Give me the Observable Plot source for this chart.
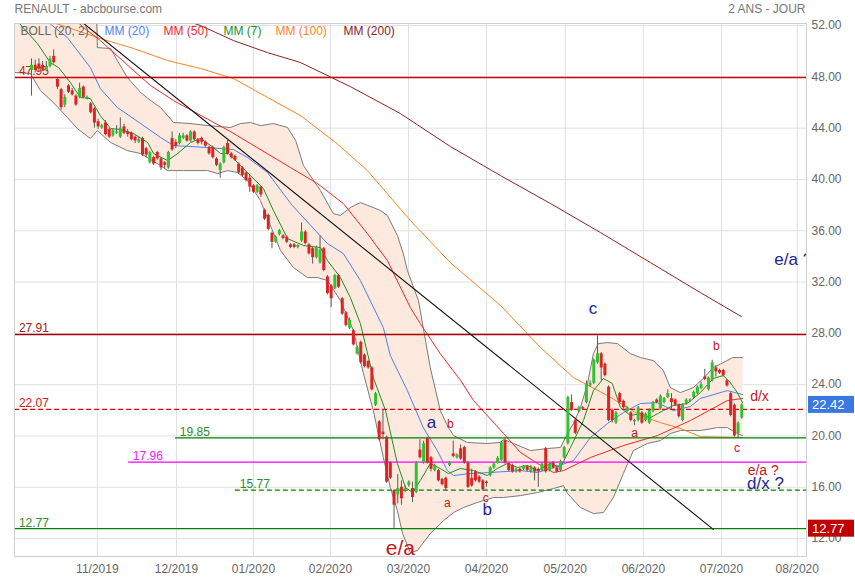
<!DOCTYPE html>
<html>
<head>
<meta charset="utf-8">
<script src="https://cdn.jsdelivr.net/npm/d3@7"></script>
<script src="https://cdn.jsdelivr.net/npm/@observablehq/plot@0.6"></script>
<style>
html,body{margin:0;padding:0;background:#fff;}
#chart svg{display:block;}
</style>
</head>
<body>
<div id="chart"></div>
<script>
// ---- daily candles (trading-day index 0..192) ----
const open = [
48.5,48.9,49.0,48.9,48.5,48.8,49.6,47.8,47.0,45.8,
47.3,46.9,46.5,46.4,47.2,46.3,45.9,45.5,44.5,44.0,
44.4,43.9,43.4,43.6,43.3,44.1,43.7,43.6,43.3,42.9,
43.2,42.4,41.3,41.7,42.1,41.6,41.3,40.9,43.2,42.9,
42.8,43.2,43.4,43.0,43.7,43.1,43.2,42.9,42.5,42.5,
41.6,40.7,41.3,42.8,42.0,41.8,41.2,40.9,40.5,40.1,
39.5,39.0,39.4,37.6,37.2,35.8,35.1,35.7,35.6,35.5,
34.9,34.9,34.7,35.2,35.9,34.9,34.6,33.9,33.5,34.6,
32.4,31.7,31.5,32.5,30.7,29.6,28.4,28.2,26.4,27.3,
26.3,25.8,25.3,22.4,21.1,20.3,19.9,17.9,15.75,15.4,
16.0,15.8,16.15,15.9,15.6,18.9,17.9,19.8,18.3,17.3,
17.3,16.6,16.7,17.7,18.6,18.3,19.0,19.1,17.9,16.7,
17.2,16.8,16.5,16.4,16.9,17.5,17.85,18.1,19.65,17.85,
17.7,17.2,17.4,17.4,17.6,17.2,17.5,17.4,17.3,19.0,
17.3,17.9,17.5,17.3,18.3,19.4,22.6,21.2,21.9,22.2,
22.6,23.9,24.1,25.7,26.4,25.6,23.8,22.0,21.0,23.3,
22.7,21.9,21.8,21.1,21.2,21.8,21.2,21.0,21.9,22.8,
22.1,22.6,23.0,22.9,22.8,22.4,21.2,22.5,22.7,23.0,
23.3,23.7,24.6,23.6,24.3,25.3,25.1,25.1,24.3,23.3,
22.4,20.2,21.4];
const close = [
48.9,48.5,48.6,48.6,48.8,49.4,49.1,47.2,45.6,46.4,
46.8,46.6,45.8,47.1,46.4,46.4,45.2,44.4,44.1,44.2,
43.5,43.3,43.8,43.7,44.0,43.6,43.5,43.1,43.0,43.1,
41.9,41.9,42.1,41.2,41.6,40.9,41.1,42.1,42.3,42.6,
43.4,43.4,43.0,43.7,43.1,42.8,42.9,42.6,42.0,41.7,
41.1,41.2,42.5,42.0,41.7,41.5,40.5,40.3,39.9,39.4,
39.0,39.5,38.8,36.9,36.1,35.1,35.5,36.0,35.4,35.1,
34.7,34.7,34.85,35.9,35.0,34.2,33.9,34.7,34.5,32.9,
31.1,30.7,32.5,31.6,29.5,28.6,29.0,27.1,26.9,25.7,
25.4,25.3,23.6,23.3,19.7,20.1,16.4,16.7,14.6,15.9,
15.1,15.9,16.4,15.2,17.9,18.3,19.4,17.9,17.4,17.7,
16.5,16.2,15.9,17.9,18.4,18.5,18.2,17.9,16.0,16.1,
16.5,16.4,15.8,16.3,17.5,17.8,18.25,19.5,17.9,17.3,
17.2,17.4,17.2,17.65,17.3,17.6,17.2,17.2,17.8,17.2,
17.8,17.5,17.2,18.0,19.1,23.0,22.0,20.2,22.2,22.1,
24.0,24.1,25.9,26.4,25.3,24.7,21.2,21.2,21.8,22.6,
22.2,22.2,21.2,21.2,22.2,21.0,21.7,22.0,22.6,22.6,
23.1,22.9,23.3,22.6,22.4,21.5,22.4,22.8,22.8,23.4,
23.8,24.0,24.4,24.5,25.7,25.0,24.9,24.7,23.9,21.6,
20.0,21.0,22.42];
const high = [
49.4,49.3,49.4,49.2,49.2,49.6,50.1,47.9,47.1,46.6,
47.4,47.1,46.6,47.5,47.3,46.5,46.0,45.6,44.7,44.3,
44.6,44.0,43.9,44.2,44.8,44.3,43.9,43.7,43.4,43.3,
43.3,42.5,42.2,41.8,42.2,41.7,41.4,42.2,43.7,43.1,
43.6,43.6,43.5,43.8,43.8,43.2,43.3,43.0,42.6,42.6,
41.7,41.3,42.6,43.2,42.1,41.9,41.3,41.0,40.6,40.3,
39.6,39.6,39.5,37.7,37.3,35.9,35.6,36.1,35.7,35.6,
35.0,35.0,34.9,36.6,36.0,35.0,34.7,34.8,35.6,34.7,
32.5,31.8,32.6,32.6,30.8,29.7,29.2,28.3,27.0,27.4,
26.4,25.9,25.4,23.4,21.2,22.0,20.0,18.0,15.8,17.0,
16.5,16.1,16.5,16.4,18.0,19.7,19.6,19.9,18.4,17.8,
17.4,16.7,16.8,18.0,19.6,18.6,19.3,19.2,18.0,17.4,
17.3,16.9,16.6,16.5,17.6,17.9,18.4,19.6,19.8,17.9,
17.8,17.5,17.5,17.7,17.7,17.7,17.6,17.5,17.9,19.1,
17.9,18.0,17.6,18.1,19.2,23.1,23.2,21.3,22.3,22.3,
24.3,24.3,26.0,27.8,26.5,25.7,23.9,22.1,21.9,23.4,
22.8,22.3,21.9,21.3,22.3,21.9,21.8,22.1,22.7,22.9,
23.2,23.0,23.6,23.3,22.9,22.5,22.5,22.9,22.9,23.5,
23.9,24.2,25.2,24.6,25.9,25.5,25.2,25.2,24.4,23.4,
22.5,21.1,22.5];
const low = [
46.5,48.3,48.4,48.4,48.4,48.7,49.0,47.0,45.4,45.6,
46.7,46.5,45.7,46.3,46.3,46.2,45.1,44.0,43.9,43.9,
43.4,43.2,43.3,43.5,43.2,43.5,43.3,43.0,42.8,42.8,
41.8,41.7,41.2,41.1,41.5,40.7,40.8,40.8,42.2,42.4,
42.7,43.1,42.9,42.9,43.0,42.7,42.7,42.5,41.9,41.6,
41.0,40.1,41.2,41.9,41.6,41.4,40.4,40.2,39.8,39.0,
38.9,38.9,38.6,36.8,36.0,34.6,35.0,35.6,35.3,35.0,
34.6,34.6,34.6,35.1,34.9,34.1,33.4,33.8,33.4,32.8,
31.0,30.0,31.4,31.5,29.4,28.5,28.3,27.0,26.3,25.6,
25.3,25.2,23.5,22.3,19.6,19.7,16.3,16.6,12.77,14.7,
14.6,15.6,16.0,14.8,15.5,18.2,17.8,17.8,17.2,17.2,
16.4,16.1,15.7,17.6,18.3,18.2,18.1,17.8,15.9,16.0,
16.4,16.3,15.7,16.0,16.8,17.4,17.8,18.0,17.8,17.2,
17.1,17.1,17.1,17.3,17.2,17.1,16.5,16.0,17.2,17.1,
17.2,17.4,17.1,17.2,18.2,19.3,21.9,20.1,21.8,22.0,
22.5,23.8,24.0,25.6,24.3,24.6,21.1,21.0,20.9,22.5,
22.1,21.8,21.1,20.8,21.1,20.9,21.1,20.9,21.8,22.5,
22.0,22.5,22.9,22.0,22.3,21.4,21.1,22.4,22.6,22.9,
23.2,23.6,24.3,23.5,24.2,24.6,24.8,24.6,23.8,21.5,
19.9,19.8,21.3];

// ---- indicator lines: [day index, price] ----
const mm7 = [[-4.6,52.6],[-3.5,52.23],[1.6,50.6],[5.1,49.1],[7.3,48.73],[10.5,47.56],[13.2,46.39],[15.9,46.31],[18.6,44.98],[21.4,43.97],[24.1,43.89],[27.6,43.58],[31.4,42.88],[33,42.02],[36.8,41.47],[39.5,42.02],[43,42.88],[45.7,43.19],[49.2,42.49],[51.1,42.02],[53.2,42.02],[56.5,41.08],[59.2,40.3],[62.7,39.29],[65.4,37.57],[69.2,35.39],[73.5,34.85],[78.1,34.69],[80,33.68],[83.5,32.35],[86.2,30.79],[88.9,28.76],[92.4,24.55],[95.7,21.98],[98.9,17.85],[101.1,15.98],[103,15.59],[105.1,16.52],[107.8,17.85],[110.5,17.46],[112.7,17.07],[115.9,17.46],[119.5,17.3],[123.2,16.91],[125.9,17.46],[128.6,17.85],[131.4,17.54],[134.1,17.69],[136.8,17.3],[140.3,17.85],[143,17.54],[145.7,19.1],[149.2,21.2],[151.9,23.54],[154.6,24.48],[157,24.09],[159.2,22.21],[161.9,21.59],[164.6,21.75],[167.3,21.43],[170.8,21.98],[173.5,22.37],[177.3,22.53],[180.8,23.38],[184.3,24.48],[187,24.71],[188.9,24.16],[190.8,23.38],[192.2,22.6]];
const mm20 = [[0,54],[4.6,52.23],[9.7,51.06],[15.9,48.73],[18.6,47.09],[23.2,45.61],[29.5,44.36],[34.9,43.27],[38.4,42.64],[47.6,42.49],[54.6,42.33],[58.4,41.71],[63.8,40.54],[70.4,38.0],[80,35.0],[84.3,34.22],[88.9,32.12],[95.1,28.45],[97,26.27],[101.6,23.54],[105.9,20.65],[109.7,18.86],[112.4,17.3],[114.1,16.91],[118.6,17.07],[124.1,17.15],[132.2,17.3],[136.8,17.15],[141.1,17.54],[146.5,18.08],[151.1,19.88],[155.7,20.97],[160,21.82],[164.6,22.53],[169.2,22.6],[173.5,21.98],[178.1,22.29],[180.8,22.92],[188.1,23.54],[192.2,23.23]];
const mm50 = [[7.8,53.5],[14.1,51.84],[18.6,50.83],[27.6,48.49],[32.2,47.32],[38.4,46.15],[53.8,43.73],[70,40.93],[77.3,39.68],[84.3,38.12],[90.8,35.78],[96.2,33.68],[102.4,30.01],[105.1,28.76],[110.5,26.42],[116,24.32],[119.5,22.76],[127.6,20.19],[132.2,18.71],[136.8,17.85],[141.1,17.15],[143.8,17.3],[151.1,18.32],[160,19.25],[169.2,20.03],[178.1,21.2],[188.1,22.76],[192.2,22.92]];
const mm100 = [[0,53.0],[5.9,52.23],[18.6,50.99],[27.6,50.21],[36.8,49.27],[45.7,48.65],[54.6,47.87],[63.8,46.39],[72.7,44.98],[82.2,42.88],[90.8,40.69],[102.4,36.8],[113.2,33.52],[126.8,30.17],[137.6,26.89],[146.5,24.55],[155.7,23.15],[164.6,21.59],[170,21.04],[175.4,20.58],[180.8,19.95],[191.9,19.88]];
const mm200 = [[38,52.7],[41.6,52.39],[45.7,52.0],[54.6,50.83],[63.8,49.89],[72.7,49.12],[86.2,47.24],[99.7,45.14],[113.2,42.57],[126.8,40.3],[140.3,38.12],[153.8,35.86],[167.3,33.52],[180.8,31.18],[191.9,29.31]];
const bollUpper = [[-4.6,54],[17.5,54],[17.8,50.28],[21.4,50.21],[23.2,49.27],[25.9,47.95],[29.5,46.78],[32.2,46.15],[34.9,45.61],[38.4,44.44],[43,44.36],[47.6,44.2],[53.8,44.05],[56.5,44.36],[59.2,44.44],[61.9,44.2],[65.4,44.36],[69.2,44.05],[71.4,43.04],[73.5,41.1],[78.1,39.13],[81.6,37.34],[83.5,37.19],[86.2,37.81],[88.9,38.2],[92.4,37.81],[94.3,37.58],[96.2,37.19],[98.9,35.63],[100.5,34.22],[101.6,32.9],[104.6,30.56],[107.8,25.33],[110.5,21.98],[112.7,20.65],[114.1,20.03],[117.8,19.49],[123.2,19.41],[126.8,19.49],[127.6,19.72],[130.3,19.41],[134.9,18.86],[139.5,19.02],[143,19.1],[144.9,20.19],[146.5,20.97],[148.4,22.21],[150.3,24.09],[151.9,26.42],[153.2,27.2],[155.7,27.28],[158.4,27.2],[161.9,26.42],[164.6,26.11],[168.1,25.88],[170.8,25.1],[172.7,23.77],[175.4,23.38],[178.9,23.77],[181.6,24.48],[184.3,25.33],[187,25.72],[189.5,26.11],[192.2,26.11]];
const bollLower = [[-4.6,48.34],[-0.3,48.26],[2.4,46.93],[5.9,46.0],[9.7,44.83],[12.4,43.97],[15.9,43.19],[17.8,43.81],[21.4,42.88],[25.9,42.25],[29.5,42.02],[34.9,41.08],[36.8,40.69],[41.1,40.69],[47.6,40.69],[50.3,40.46],[53,40.69],[55.7,40.54],[58.4,39.91],[61.9,38.35],[67.3,34.46],[70.8,33.13],[74.6,32.35],[77.3,32.35],[80,32.12],[83.5,30.56],[87,28.22],[89.7,24.9],[92.4,21.98],[95.1,18.32],[97,15.98],[98.9,14.18],[100.3,12.39],[102.4,10.91],[104.3,11.06],[107.8,12.39],[111.4,13.4],[114.1,14.03],[116.8,14.42],[120.5,14.81],[124.9,15.2],[127.6,15.2],[132.2,15.35],[136.8,15.59],[141.1,15.9],[143.8,16.13],[144.9,15.51],[148.4,14.42],[151.9,13.95],[154.6,14.03],[157.3,15.2],[160,17.07],[162.7,18.86],[166.5,19.41],[170,19.64],[172.7,20.19],[175.4,20.42],[180.8,20.42],[185.4,20.65],[188.1,20.65],[190.8,20.19],[192.2,20.03]];

// ---- drawn levels, trend line, annotations ----
const levelValues = [47.95, 27.91, 22.07, 19.85, 17.96, 15.77, 12.77];
const levelStartIdx = [null, null, null, 38.9, 26.2, 55.1, null];
const trendIdx = [5, 184.3];
const trendPrice = [54.27, 12.72];
const annText = ["e/a","a","b","a","c","b","c","a","b","d/x","c","e/a ?","d/x ?","e/a ?"];
const annIdx = [99.7,108.1,113.2,112.4,122.8,123.2,151.8,163,185.1,196.8,190.7,197.8,198.4,200.8];
const annPrice = [11.22,21.05,20.89,14.73,15.16,14.26,29.9,20.19,26.97,23.08,19.06,17.34,16.29,33.76];

// ---- axes ----
const priceTicks = [12,16,20,24,28,32,36,40,44,48,52];
const monthTicks = [17.8,39.2,60.0,80.8,101.9,123.0,144.3,165.4,186.5,207.0];
const monthLabels = ["11/2019","12/2019","01/2020","02/2020","03/2020","04/2020","05/2020","06/2020","07/2020","08/2020"];
const legendLabels = ["BOLL (20, 2)","MM (20)","MM (50)","MM (7)","MM (100)","MM (200)"];

// ---- styles (not data) ----
const xMin = -4.6, xMax = 209.5, yMin = 10.6, yMax = 52.16;
const C = {green:"#2ec42e", red:"#dc2424", wick:"#5a5a5a", band:"#fde9dd", bandLine:"#7a7a7a",
  mm7:"#1f8f1f", mm20:"#4f7ff0", mm50:"#ee2a2a", mm100:"#ff8224", mm200:"#8c2424",
  navy:"#23239a", dred:"#c4161c"};
const levelColors = ["#cc0000","#a00000","#dd0000","#008000","#ff00ff","#008000","#008000"];
const levelLabelColors = ["#cc2020","#a02020","#cc2020","#2e8b2e","#ee22ee","#2e8b2e","#2e8b2e"];
const levelDashed = [false,false,true,false,false,true,false];
const legendColors = ["#666666", C.mm20, C.mm50, C.mm7, C.mm100, C.mm200];
const legendDx = [6, 90, 149, 209, 261, 329];
const annStyle = ["big","blue","red","red","red","blue","blue","red","red","redm","red","redm","blue","blue"];
const annFont = {big:21, blue:17, red:12, redm:14};
const annAnchor = annText.map((t,i)=> i === 13 ? "start" : "middle");

const candles = open.map((o,i)=>({i, o, c:close[i], h:high[i], l:low[i]}));
const P = a => a.map(([x,y])=>({x,y}));
const bandPoly = P(bollUpper.concat(bollLower.slice().reverse()));
const levels = levelValues.map((v,i)=>({v, s: levelStartIdx[i] ?? xMin, c: levelColors[i], lc: levelLabelColors[i], d: levelDashed[i]}));
const anns = annText.map((t,i)=>({t, x: annIdx[i], y: annPrice[i], st: annStyle[i], a: annAnchor[i]}));
const trend = trendIdx.map((x,i)=>({x, y: trendPrice[i]}));

function priceTag(value, bg) {
  return (index, scales, values, dims) => {
    const y = scales.y(value);
    const x0 = dims.width - dims.marginRight + 2;
    const g = d3.create("svg:g");
    g.append("rect").attr("x", x0).attr("y", y - 8.5).attr("width", 46).attr("height", 17).attr("fill", bg);
    g.append("text").attr("x", x0 + 4).attr("y", y).attr("dy", "0.36em").attr("fill", "#fff")
      .attr("text-anchor", "start").attr("font-size", 13).text(value.toFixed(2));
    return g.node();
  };
}

const lineMark = (arr, color) => Plot.line(P(arr), {x:"x", y:"y", stroke: color, strokeWidth: 1, clip: true});

const marks = [
  Plot.gridY(priceTicks, {stroke:"#e0e0e0", strokeOpacity:1}),
  Plot.gridX(monthTicks, {stroke:"#e0e0e0", strokeOpacity:1}),
  Plot.line(bandPoly, {x:"x", y:"y", fill: C.band, stroke:"none", clip:true}),
  lineMark(bollUpper, C.bandLine),
  lineMark(bollLower, C.bandLine),
  lineMark(mm200, C.mm200),
  lineMark(mm100, C.mm100),
  lineMark(mm50, C.mm50),
  lineMark(mm20, C.mm20),
  lineMark(mm7, C.mm7),
];
levels.forEach(L => {
  marks.push(Plot.ruleY([L], {y:"v", x1:"s", x2: xMax, stroke: L.c, strokeWidth: 1.3, strokeDasharray: L.d ? "5,3" : null}));
  marks.push(Plot.text([L], {x: d => d.s + 1.2, y:"v", text: d => d.v.toFixed(2), dy:-6, textAnchor:"start", fill: L.lc, fontSize: 12}));
});
marks.push(
  Plot.line(trend, {x:"x", y:"y", stroke:"#111", strokeWidth:1.1, clip:true}),
  Plot.ruleX(candles, {x:"i", y1:"l", y2:"h", stroke: C.wick, strokeWidth:1}),
  Plot.ruleX(candles.filter(d=>d.c>=d.o), {x:"i", y1:"o", y2:"c", stroke: C.green, strokeWidth:3}),
  Plot.ruleX(candles.filter(d=>d.c<d.o), {x:"i", y1:"o", y2:"c", stroke: C.red, strokeWidth:3}),
  Plot.frame({stroke:"#cfcfcf"}),
  Plot.axisY({ticks: priceTicks, anchor:"right", tickSize:0, tickPadding:5, tickFormat: d => d.toFixed(2), label:null, fontSize:12}),
  Plot.axisX({ticks: monthTicks, anchor:"bottom", tickSize:0, tickPadding:8, tickFormat: d => monthLabels[monthTicks.indexOf(d)], label:null, fontSize:12})
);
legendLabels.forEach((t,i)=>{
  marks.push(Plot.text([t], {frameAnchor:"top-left", text:d=>d, dx: legendDx[i], dy: 8, textAnchor:"start", lineAnchor:"middle", fill: legendColors[i], fontSize:12}));
});
["big","blue","red","redm"].forEach(st=>{
  const col = st === "blue" ? C.navy : C.dred;
  ["middle","start"].forEach(a=>{
    const sub = anns.filter(d=>d.st===st && d.a===a);
    if (sub.length) marks.push(Plot.text(sub, {x:"x", y:"y", text:"t", fill: col, fontSize: annFont[st], textAnchor: a, lineAnchor:"middle", clip:true}));
  });
});
marks.push(
  Plot.text(["RENAULT - abcbourse.com"], {frameAnchor:"top-left", text:d=>d, dy:-14, textAnchor:"start", lineAnchor:"middle", fill:"#777", fontSize:12}),
  Plot.text(["2 ANS - JOUR"], {frameAnchor:"top-right", text:d=>d, dx:-1, dy:-14, textAnchor:"end", lineAnchor:"middle", fill:"#777", fontSize:12}),
  priceTag(close[close.length-1], "#3b78e2"),
  priceTag(levelValues[6], "#be0000")
);

const chart = Plot.plot({
  width: 855, height: 580,
  marginLeft: 14, marginRight: 49, marginTop: 23, marginBottom: 24,
  x: {type:"linear", domain:[xMin, xMax]},
  y: {type:"linear", domain:[yMin, yMax]},
  style: {fontFamily:"'Liberation Sans', Arial, Helvetica, sans-serif", fontSize:"12px", color:"#666", background:"#fff"},
  marks
});
document.getElementById("chart").appendChild(chart);
</script>
</body>
</html>
